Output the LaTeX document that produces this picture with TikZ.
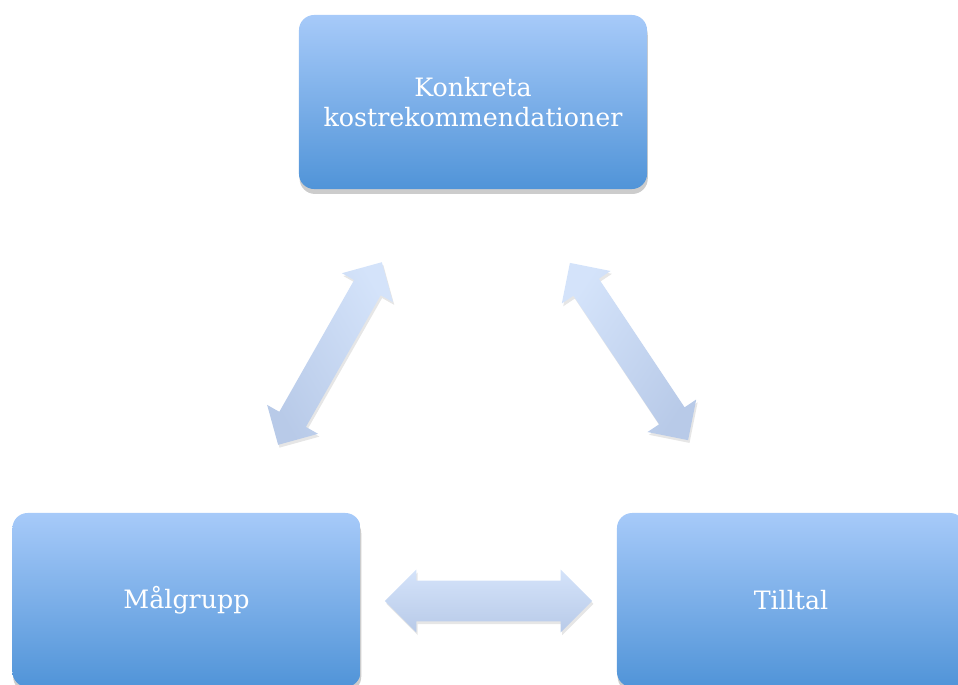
\documentclass[tikz,border=0pt]{standalone}
\usepackage{fontspec}
\setmainfont{DejaVu Serif}
\usepackage{tikz}
\usetikzlibrary{shapes.arrows,shadows}

\definecolor{boxtop}{RGB}{167,202,249}
\definecolor{boxbot}{RGB}{80,148,216}
\definecolor{arrtop}{RGB}{212,227,250}
\definecolor{arrbot}{RGB}{184,202,232}

\begin{document}
\begin{tikzpicture}[x=0.025cm,y=-0.025cm,
    box/.style={rectangle,rounded corners=0.38cm,
      minimum width=8.7cm,minimum height=4.35cm,
      top color=boxtop,bottom color=boxbot,
      drop shadow={shadow xshift=0.5pt,shadow yshift=-3.5pt,opacity=0.4},
      text=white,align=center,font=\fontsize{18}{21.5}\selectfont},
    blockarrow/.style={double arrow,inner xsep=0pt,
      top color=arrtop,bottom color=arrbot,
      drop shadow={shadow xshift=1pt,shadow yshift=-2pt,opacity=0.2}}]
\useasboundingbox (0,0) rectangle (958,684);

\node[box] (kost) at (473,102) {Konkreta\\kostrekommendationer};
\node[box] (mal) at (186.5,600) {Målgrupp};
\node[box] (till) at (791,600) {Tilltal};

% dubbelpilar mellan rutorna
\node[blockarrow,minimum height=5.25cm,inner ysep=0.375cm,minimum width=1.45cm,
      double arrow head extend=0.35cm,rotate=60.4,shading angle=-60.4]
      (malkost) at (330,353.5) {};
\node[blockarrow,minimum height=5.325cm,inner ysep=0.375cm,minimum width=1.45cm,
      double arrow head extend=0.35cm,rotate=-56.3,shading angle=56.3]
      (kosttill) at (629,351.5) {};
\node[blockarrow,minimum height=5.175cm,inner ysep=0.5cm,minimum width=1.55cm,
      double arrow head extend=0.275cm]
      (maltill) at (488.5,601) {};
\end{tikzpicture}
\end{document}
